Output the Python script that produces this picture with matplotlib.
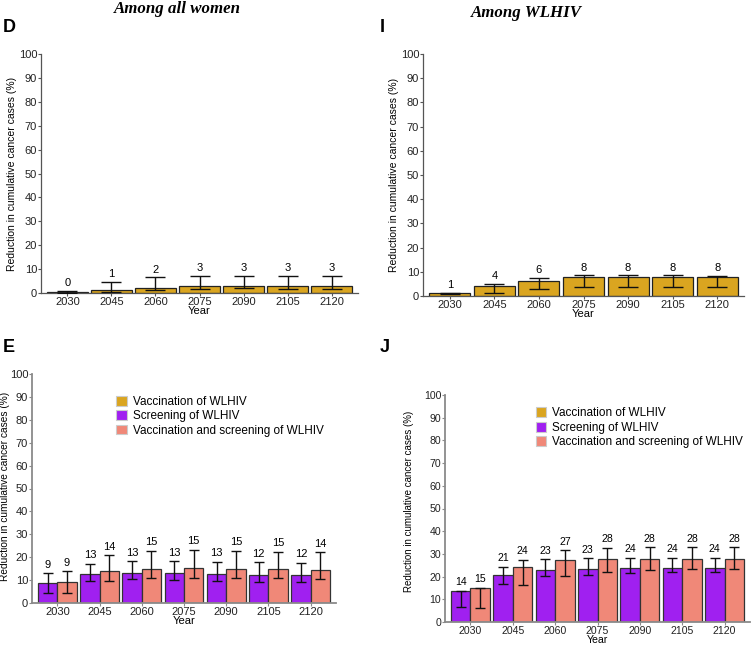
import matplotlib
matplotlib.use("Agg")
import matplotlib.pyplot as plt
import numpy as np
from matplotlib.patches import Patch

plt.rcParams['font.family'] = ['Liberation Sans', 'DejaVu Sans']

years = ["2030", "2045", "2060", "2075", "2090", "2105", "2120"]

# Panel D: vaccination, all women
d_vals = [0.3, 1.2, 2.2, 2.9, 3.0, 2.9, 2.8]
d_lo = [0.0, 0.3, 1.3, 1.8, 1.9, 1.7, 1.7]
d_hi = [1.0, 4.5, 6.5, 7.2, 7.2, 7.1, 7.0]
d_lab = ["0", "1", "2", "3", "3", "3", "3"]

# Panel I: vaccination, WLHIV
i_vals = [1.1, 4.1, 6.3, 7.8, 8.0, 8.0, 7.9]
i_lo = [0.9, 1.2, 3.0, 3.8, 3.8, 3.8, 3.8]
i_hi = [1.4, 5.1, 7.5, 8.5, 8.5, 8.5, 8.3]
i_lab = ["1", "4", "6", "8", "8", "8", "8"]

# Panel E: all women
e_scr = [8.8, 12.8, 13.2, 13.1, 12.7, 12.4, 12.3]
e_scr_lo = [4.2, 9.6, 10.6, 10.2, 9.7, 9.2, 9.0]
e_scr_hi = [12.9, 17.1, 18.3, 18.3, 18.1, 17.9, 17.6]
e_scr_lab = ["9", "13", "13", "13", "13", "12", "12"]
e_both = [9.0, 13.8, 15.0, 15.3, 15.0, 14.7, 14.5]
e_both_lo = [4.3, 9.6, 11.0, 11.0, 11.0, 10.7, 10.4]
e_both_hi = [14.0, 20.8, 22.8, 23.2, 22.8, 22.4, 22.1]
e_both_lab = ["9", "14", "15", "15", "15", "15", "14"]

# Panel J: WLHIV
j_scr = [13.8, 20.8, 23.0, 23.4, 23.6, 23.7, 23.7]
j_scr_lo = [6.5, 16.8, 20.1, 20.9, 21.7, 22.0, 22.2]
j_scr_hi = [13.8, 24.4, 27.6, 28.2, 28.3, 28.3, 28.3]
j_scr_lab = ["14", "21", "23", "23", "24", "24", "24"]
j_both = [15.0, 24.1, 27.1, 27.7, 27.8, 27.8, 27.8]
j_both_lo = [6.3, 16.5, 20.4, 22.1, 23.0, 23.4, 23.5]
j_both_hi = [15.1, 27.4, 31.5, 32.7, 32.9, 32.9, 32.9]
j_both_lab = ["15", "24", "27", "28", "28", "28", "28"]

legend_labels = ["Vaccination of WLHIV", "Screening of WLHIV",
                 "Vaccination and screening of WLHIV"]

C_VAC = "#DAA520"
C_SCR = "#A020F0"
C_BOTH = "#F08878"
ylabel = "Reduction in cumulative cancer cases (%)"

W, H = 752, 646
fig = plt.figure(figsize=(W/100, H/100), dpi=100)

def px_axes(l, t, r, b):
    return fig.add_axes([l/W, 1-b/H, (r-l)/W, (b-t)/H])

def style(ax, spine_col, spine_lw, tick_fs, ylab_fs, ylab_xy=None):
    ax.set_ylim(0, 100)
    ax.set_yticks(np.arange(0, 101, 10))
    ax.set_xlim(-0.6, len(years)-0.4)
    ax.set_xticks(np.arange(len(years)))
    ax.set_xticklabels(years)
    for s in ["top", "right"]:
        ax.spines[s].set_visible(False)
    for s in ["left", "bottom"]:
        ax.spines[s].set_color(spine_col)
        ax.spines[s].set_linewidth(spine_lw)
    ax.tick_params(axis="both", labelsize=tick_fs, length=2, width=0.8,
                   colors=spine_col, labelcolor="#222222", pad=0.8)
    ax.set_ylabel(ylabel, fontsize=ylab_fs, labelpad=1)
    if ylab_xy is not None:
        ax.yaxis.set_label_coords(*ylab_xy)
    ax.set_xlabel("Year", fontsize=tick_fs, labelpad=-0.5)

def single(ax, vals, lo, hi, labs):
    x = np.arange(len(years))
    ax.bar(x, vals, width=0.92, color=C_VAC, edgecolor="#222222", linewidth=0.9, zorder=2)
    v = np.array(vals)
    ax.errorbar(x, vals, yerr=[v-np.array(lo), np.array(hi)-v], fmt="none",
                ecolor="#111111", elinewidth=1.0, capsize=7, capthick=1.0, zorder=3)
    for xi, h, t in zip(x, hi, labs):
        ax.text(xi, h + 1.2, t, ha="center", va="bottom", fontsize=8)
    style(ax, "#555555", 0.9, 8, 7.5)

def grouped(ax, s, slo, shi, slab, b, blo, bhi, blab, anchor, tick_fs, ylab_fs, ylab_xy):
    x = np.arange(len(years))
    w = 0.46
    for off, vals, lo, hi, labs, col in [(-w/2, s, slo, shi, slab, C_SCR),
                                         (w/2, b, blo, bhi, blab, C_BOTH)]:
        xs = x + off
        ax.bar(xs, vals, width=w, color=col, edgecolor="#333333", linewidth=0.9, zorder=2)
        v = np.array(vals)
        ax.errorbar(xs, vals, yerr=[v-np.array(lo), np.array(hi)-v], fmt="none",
                    ecolor="#111111", elinewidth=1.0, capsize=3.5, capthick=1.0, zorder=3)
        for xi, h, t in zip(xs, hi, labs):
            ax.text(xi, h + 1.5, t, ha="center", va="bottom", fontsize=tick_fs)
    style(ax, "#8a8a8a", 1.3, tick_fs, ylab_fs, ylab_xy)
    handles = [Patch(facecolor=c, edgecolor="#cccccc", linewidth=0.8)
               for c in (C_VAC, C_SCR, C_BOTH)]
    ax.legend(handles, legend_labels, loc="upper left", bbox_to_anchor=anchor,
              frameon=False, fontsize=8.5, handlelength=0.9, handleheight=0.9,
              handletextpad=0.5, labelspacing=0.2, borderpad=0.2, borderaxespad=0)

axD = px_axes(41, 54, 358, 293)
single(axD, d_vals, d_lo, d_hi, d_lab)
axI = px_axes(423, 54, 744, 296)
single(axI, i_vals, i_lo, i_hi, i_lab)
axE = px_axes(32, 374, 336, 603)
grouped(axE, e_scr, e_scr_lo, e_scr_hi, e_scr_lab, e_both, e_both_lo, e_both_hi,
        e_both_lab, (0.27, 0.915), 8, 7.3, (-0.071, 0.51))
axJ = px_axes(445, 395, 750, 622)
grouped(axJ, j_scr, j_scr_lo, j_scr_hi, j_scr_lab, j_both, j_both_lo, j_both_hi,
        j_both_lab, (0.29, 0.956), 7.6, 7.0, (-0.10, 0.53))

fig.text(177/W, 1-12.7/H, "Among all women", ha="center", va="baseline", fontsize=12.2,
         family="Liberation Serif", style="italic", weight="bold")
fig.text(526/W, 1-17.3/H, "Among WLHIV", ha="center", va="baseline", fontsize=12.2,
         family="Liberation Serif", style="italic", weight="bold")
for letter, x, y in [("D", 3, 28), ("I", 380, 27), ("E", 3, 348), ("J", 380, 348)]:
    fig.text(x/W, 1-y/H, letter, ha="left", va="center", fontsize=13, weight="bold")

fig.savefig("out.png", dpi=100)
